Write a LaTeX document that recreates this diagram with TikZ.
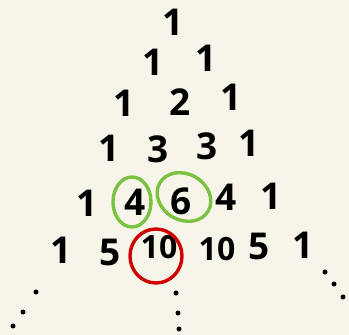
\documentclass[tikz,border=0pt]{standalone}
\usepackage{fontspec}
\setmainfont{Open Sans}
\definecolor{bg}{HTML}{F7F5EA}
\definecolor{grn}{HTML}{7CC242}
\definecolor{rd}{HTML}{D00000}
\begin{document}
\begin{tikzpicture}[x=1pt,y=-1pt,
  num/.style={font=\fontsize{37}{37}\selectfont\bfseries, inner sep=0pt, text=black},
  small/.style={font=\fontsize{32}{32}\selectfont\bfseries, inner sep=0pt, text=black},
  ring/.style={line width=3.4pt, line cap=round},
  dotm/.style={fill=black, draw=none}]
\fill[bg] (0,0) rectangle (349,335);
\useasboundingbox (0,0) rectangle (349,335);
% row 1
\node[num] (r1a) at (173,22) {1};
% row 2
\node[num] (r2a) at (153,62) {1};
\node[num] (r2b) at (206,58) {1};
% row 3
\node[num] (r3a) at (124,103) {1};
\node[num] (r3b) at (180,102) {2};
\node[num] (r3c) at (231,97) {1};
% row 4
\node[num] (r4a) at (109,148) {1};
\node[num] (r4b) at (158,149) {3};
\node[num] (r4c) at (207,146) {3};
\node[num] (r4d) at (249,143) {1};
% row 5
\node[num] (r5a) at (87,203) {1};
\node[num] (r5b) at (135,202) {4};
\node[num] (r5c) at (181,201) {6};
\node[num] (r5d) at (226,197) {4};
\node[num] (r5e) at (271,196) {1};
% row 6
\node[num] (r6a) at (61,250) {1};
\node[num] (r6b) at (110,252) {5};
\node[small] (r6c) at (159,247) {10};
\node[small] (r6d) at (217,249) {10};
\node[num] (r6e) at (259,246) {5};
\node[num] (r6f) at (303,245) {1};
% circles
\draw[ring, grn] (r5b.center) ++(-3,0) ellipse [x radius=19, y radius=25];
\draw[ring, grn, rotate around={-30:(184,197)}] (184,197) ellipse [x radius=28, y radius=23];
\draw[ring, rd] (156,256) ellipse [x radius=26, y radius=27];
% continuation dots
\coordinate (d1) at (36,292);
\coordinate (d2) at (23,312);
\coordinate (d3) at (13,326);
\coordinate (d4) at (176,293);
\coordinate (d5) at (178,313);
\coordinate (d6) at (179,329);
\coordinate (d7) at (325,272);
\coordinate (d8) at (334,284);
\coordinate (d9) at (343,297);
\foreach \d in {d1,d2,d3,d4,d5,d6,d7,d8,d9} \fill[dotm] (\d) circle (2.5);
\end{tikzpicture}
\end{document}
